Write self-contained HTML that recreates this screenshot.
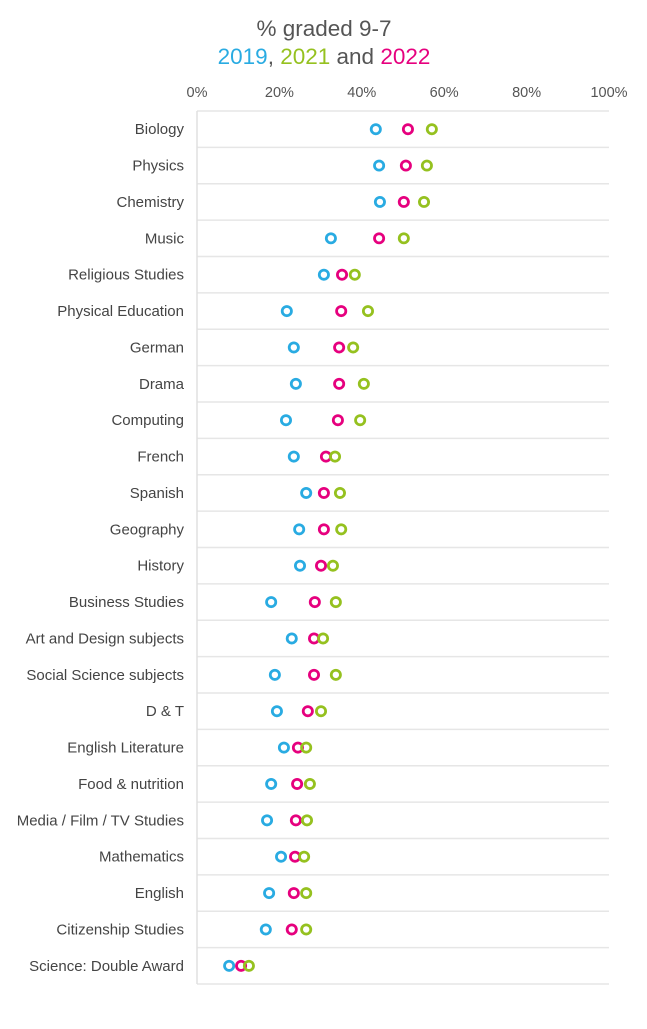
<!DOCTYPE html>
<html><head><meta charset="utf-8"><style>
body{margin:0;background:#fff;font-family:"Liberation Sans",sans-serif}
</style></head><body>
<svg width="647" height="1024" xmlns="http://www.w3.org/2000/svg">
<text x="324" y="36" text-anchor="middle" font-size="22.5" fill="#555">% graded 9-7</text>
<text x="324" y="64" text-anchor="middle" font-size="22.5"><tspan fill="#29abe2">2019</tspan><tspan fill="#555">, </tspan><tspan fill="#95c11f">2021</tspan><tspan fill="#555"> and </tspan><tspan fill="#e6007e">2022</tspan></text>
<g id="grid"></g><g id="ticks"></g><g id="labels"></g><g id="dots"></g>
</svg>
<script>
const categories=["Biology","Physics","Chemistry","Music","Religious Studies","Physical Education","German","Drama","Computing","French","Spanish","Geography","History","Business Studies","Art and Design subjects","Social Science subjects","D & T","English Literature","Food & nutrition","Media / Film / TV Studies","Mathematics","English","Citizenship Studies","Science: Double Award"];
const v2019=[43.4,44.2,44.4,32.5,30.8,21.8,23.5,24,21.6,23.5,26.5,24.8,25,18,23,18.9,19.4,21.1,18,17,20.4,17.5,16.7,7.8];
const v2022=[51.2,50.7,50.2,44.2,35.2,35,34.5,34.5,34.2,31.3,30.8,30.8,30.1,28.6,28.4,28.4,26.9,24.5,24.3,24,23.8,23.5,23,10.7];
const v2021=[57,55.8,55.1,50.2,38.3,41.5,37.9,40.5,39.6,33.5,34.7,35,33,33.7,30.6,33.7,30.1,26.5,27.4,26.7,26,26.5,26.5,12.6];
const tickLabels=["0%","20%","40%","60%","80%","100%"];
const tickValues=[0,20,40,60,80,100];
const NS="http://www.w3.org/2000/svg";
const X0=197,X1=609,Y0=111,RH=36.375;
const x=v=>X0+(X1-X0)*v/100;
const y=i=>Y0+RH*(i+0.5);
function mk(t,a,p){const e=document.createElementNS(NS,t);for(const k in a)e.setAttribute(k,a[k]);document.getElementById(p).appendChild(e);return e;}
for(let i=0;i<=categories.length;i++){
 const l=mk('line',{x1:X0,x2:X1,y1:Y0+RH*i,y2:Y0+RH*i,stroke:'#e6e6e6','stroke-width':1.5},'grid');
 
 
}
const ax=mk('line',{x1:X0,x2:X0,y1:Y0,y2:Y0+RH*categories.length,stroke:'#e0e0e0','stroke-width':1.5},'grid');


tickValues.forEach((v,i)=>{
 const t=mk('text',{x:x(v),y:97,'text-anchor':'middle','font-size':14.5,fill:'#555'},'ticks');
 t.textContent=tickLabels[i];
 
 
});
categories.forEach((c,i)=>{
 const t=mk('text',{x:184,y:y(i)+5,'text-anchor':'end','font-size':15,fill:'#444'},'labels');
 t.textContent=c;
 
 
 [[v2019,'#29abe2','dot-2019'],[v2022,'#e6007e','dot-2022'],[v2021,'#95c11f','dot-2021']].forEach(([arr,col,nm])=>{
  const d=mk('circle',{cx:x(arr[i]),cy:y(i),r:4.6,fill:'none',stroke:col,'stroke-width':2.8},'dots');
  
  
 });
});
</script>
</body></html>
